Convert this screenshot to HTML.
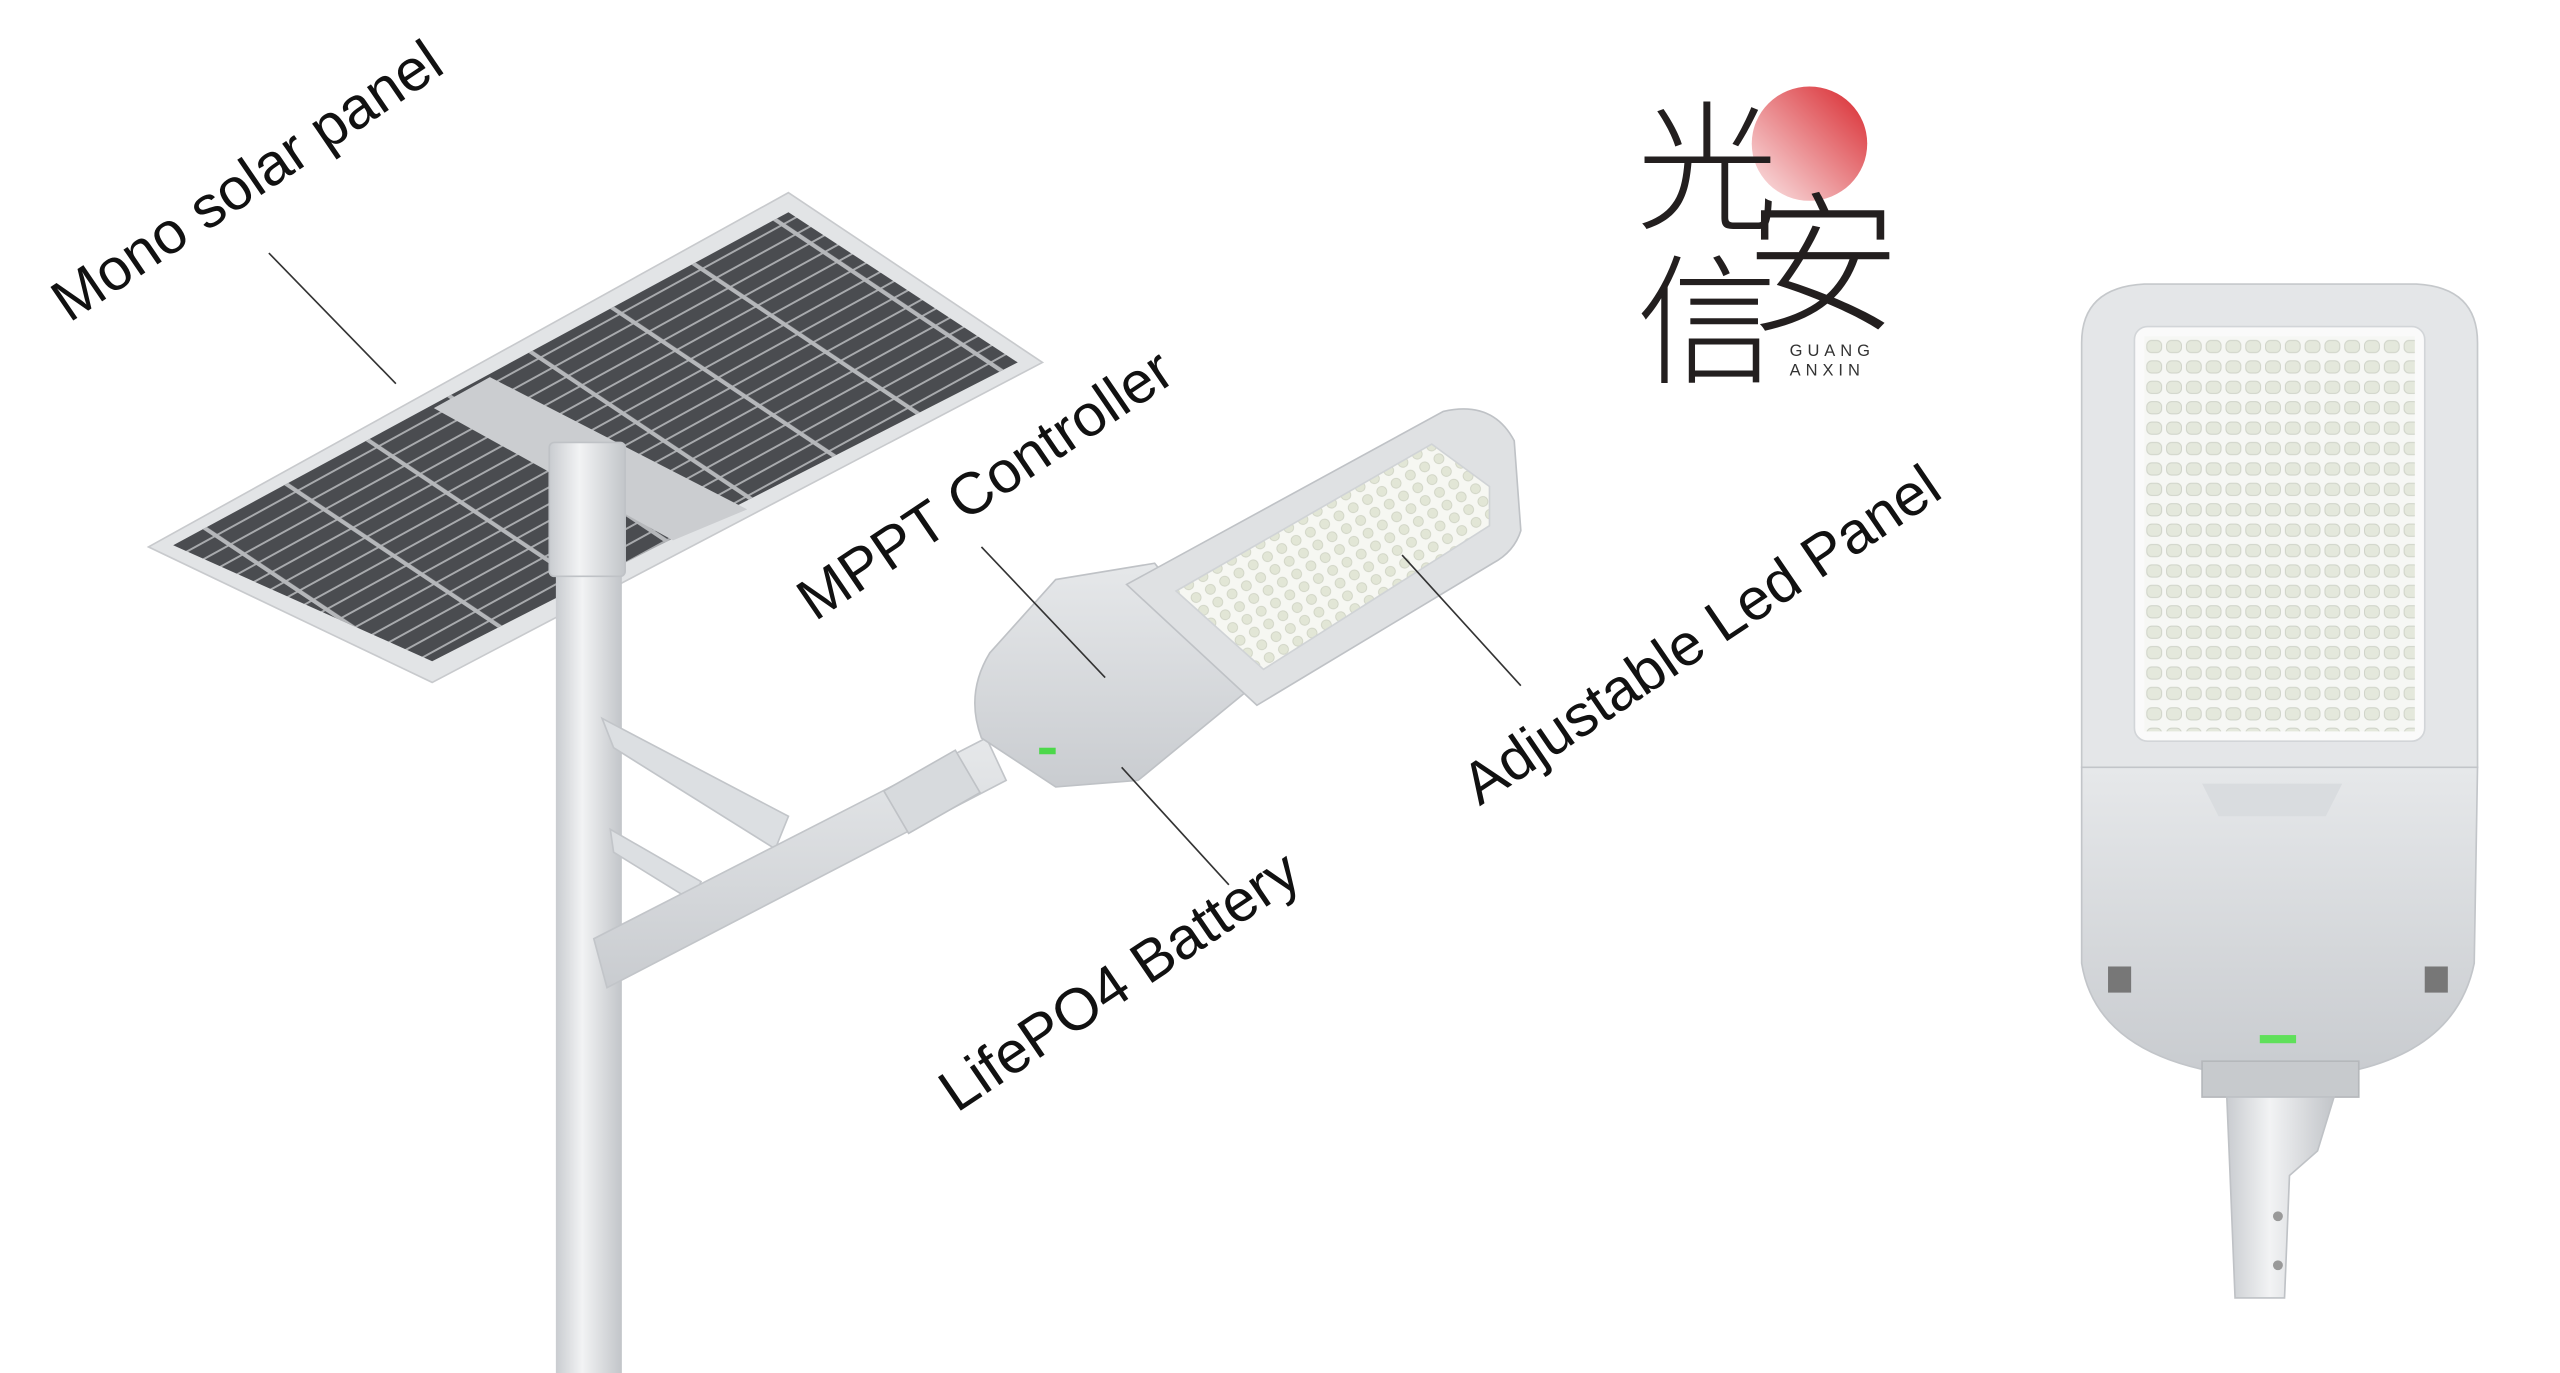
<!DOCTYPE html>
<html><head><meta charset="utf-8"><style>
html,body{margin:0;padding:0;background:#fff;overflow:hidden}
svg{display:block}
.lbl{font-family:"Liberation Sans",sans-serif;font-size:36px;fill:#111}
</style></head><body>
<svg width="2560" height="1373" viewBox="0 0 1552 841" preserveAspectRatio="none" xmlns="http://www.w3.org/2000/svg">
<defs>
<linearGradient id="sun" x1="1" y1="0" x2="0" y2="1"><stop offset="0" stop-color="#d8262c"/><stop offset="1" stop-color="#fbe9ea"/></linearGradient>
<linearGradient id="pole" x1="0" x2="1"><stop offset="0" stop-color="#c9ccd0"/><stop offset=".4" stop-color="#f2f3f4"/><stop offset="1" stop-color="#c2c5c9"/></linearGradient>
<linearGradient id="body" x1="0" y1="0" x2="0" y2="1"><stop offset="0" stop-color="#e6e8ea"/><stop offset="1" stop-color="#c9ccd0"/></linearGradient>
<pattern id="cells" width="40" height="9" patternUnits="userSpaceOnUse" patternTransform="rotate(-29)">
<rect width="40" height="9" fill="#4a4c50"/><rect y="7.8" width="40" height="1.2" fill="#a8aaad"/></pattern>
<pattern id="cross" width="50" height="20" patternUnits="userSpaceOnUse" patternTransform="rotate(-56)">
<rect x="0" y="0" width="2.5" height="20" fill="#b5b7ba"/></pattern>
<pattern id="leds" width="12" height="12.5" patternUnits="userSpaceOnUse" x="1300" y="206"><rect width="12" height="12.5" fill="#f6f7f4"/><rect x="1.5" y="2.5" width="9" height="7.5" rx="3" fill="#e4e8dc" stroke="#cfd3c8" stroke-width=".6"/></pattern>
<pattern id="leds2" width="10" height="9" patternUnits="userSpaceOnUse" patternTransform="rotate(-30)"><rect width="10" height="9" fill="#f6f7f2"/><circle cx="5" cy="4.5" r="3" fill="#e2e6d6" stroke="#cfd3c4" stroke-width=".5"/></pattern>
</defs>

<!-- Solar panel -->
<polygon points="478,118 632,222 262,418 90,335" fill="#e2e4e6" stroke="#c8cacd"/>
<polygon points="478,130 617,222 262,405 105,334" fill="url(#cells)"/>
<polygon points="478,130 617,222 262,405 105,334" fill="url(#cross)"/>
<polygon points="263,250 297,231 453,312 408,331" fill="#cbcdd0"/>
<!-- pole -->
<rect x="337" y="272" width="40" height="569" fill="url(#pole)"/>
<rect x="333" y="271" width="46" height="82" rx="3" fill="url(#pole)" stroke="#bfc2c6"/>
<!-- brackets -->
<polygon points="365,440 372,458 470,520 478,500" fill="#dcdfe2" stroke="#c2c5c9"/>
<polygon points="370,508 372,522 420,552 425,540" fill="#dcdfe2" stroke="#c2c5c9"/>
<!-- arm -->
<polygon points="360,575 368,605 610,478 598,452" fill="url(#body)" stroke="#c2c5c9"/>
<rect x="540" y="470" width="50" height="30" transform="rotate(-30 565 485)" fill="#d7dadd" stroke="#bfc2c6"/>
<!-- lamp head -->
<path d="M600,400 Q585,425 595,452 L640,482 L690,478 L760,420 L700,345 L640,355 Z" fill="url(#body)" stroke="#bfc2c6"/>
<path d="M683,358 L875,252 Q905,245 918,270 L922,325 Q918,338 905,345 L762,432 Z" fill="#dfe1e3" stroke="#bfc2c6"/>
<polygon points="713,362 868,272 903,298 903,322 766,410" fill="url(#leds2)" stroke="#d0d3d6"/>
<rect x="630" y="458" width="10" height="4" fill="#4cd84a"/>

<!-- leader lines -->
<g stroke="#333" stroke-width="1">
<line x1="163" y1="155" x2="240" y2="235"/>
<line x1="595" y1="335" x2="670" y2="415"/>
<line x1="680" y1="470" x2="745" y2="542"/>
<line x1="850" y1="340" x2="922" y2="420"/>
</g>
<!-- labels -->
<text class="lbl" transform="translate(42,198) rotate(-34)">Mono solar panel</text>
<text class="lbl" transform="translate(494,381) rotate(-34)">MPPT Controller</text>
<text class="lbl" transform="translate(580,682) rotate(-34)">LifePO4 Battery</text>
<text class="lbl" transform="translate(897,494) rotate(-34)">Adjustable Led Panel</text>

<!-- logo -->
<circle cx="1097" cy="88" r="35" fill="url(#sun)"/>
<g font-family="'Noto Sans CJK SC', sans-serif" fill="#231f1f" font-weight="300">
<text x="992" y="134" font-size="86">光</text>
<text x="1058" y="196" font-size="94">安</text>
<text x="992" y="228" font-size="86">信</text>
</g>
<text x="1085" y="218" font-family="Liberation Sans,sans-serif" font-size="10" letter-spacing="3" fill="#333">GUANG</text>
<text x="1085" y="230" font-family="Liberation Sans,sans-serif" font-size="10" letter-spacing="3" fill="#333">ANXIN</text>

<!-- right lamp -->
<path d="M1262,210 Q1262,176 1300,174 L1465,174 Q1502,176 1502,210 L1502,470 L1262,470 Z" fill="#e4e6e8" stroke="#c5c8cb"/>
<rect x="1294" y="200" width="176" height="254" rx="8" fill="#fafafa" stroke="#d2d5d8"/>
<rect x="1300" y="206" width="164" height="242" fill="url(#leds)"/>
<path d="M1262,470 L1502,470 L1500,590 Q1490,640 1430,655 L1335,655 Q1270,640 1262,590 Z" fill="url(#body)" stroke="#c2c5c9"/>
<path d="M1335,480 L1420,480 L1410,500 L1345,500 Z" fill="#d9dcdf"/>
<rect x="1370" y="634" width="22" height="5" fill="#5fe05a"/>
<path d="M1335,650 L1430,650 L1430,672 L1335,672 Z" fill="#c7cacd" stroke="#b5b8bb"/>
<path d="M1350,672 L1415,672 L1405,705 L1388,720 L1385,795 L1355,795 L1352,720 Z" fill="url(#pole)" stroke="#bfc2c6"/>
<circle cx="1381" cy="745" r="3" fill="#999"/><circle cx="1381" cy="775" r="3" fill="#999"/>
<rect x="1278" y="592" width="14" height="16" fill="#777"/><rect x="1470" y="592" width="14" height="16" fill="#777"/>
</svg>
</body></html>
